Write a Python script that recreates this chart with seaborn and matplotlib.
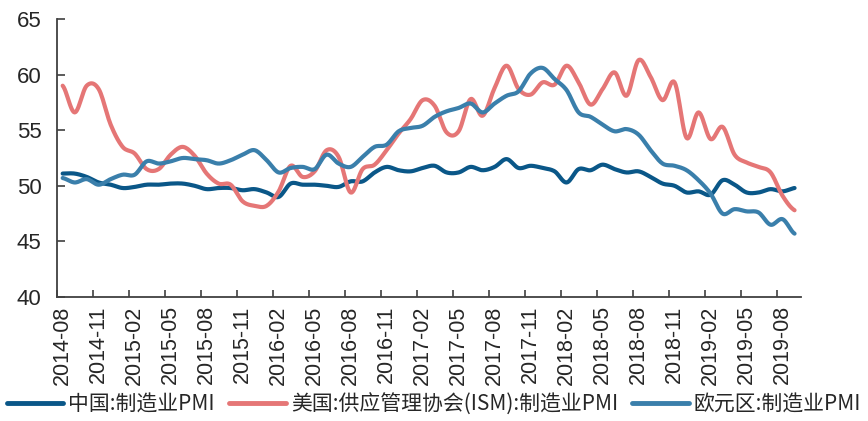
import numpy as np
import pandas as pd
import matplotlib
matplotlib.use("Agg")
import matplotlib.pyplot as plt
import seaborn as sns

# monthly data 2014-08 .. 2019-09
months = pd.period_range("2014-08", "2019-09", freq="M").strftime("%Y-%m").tolist()

china_pmi = [51.1, 51.1, 50.8, 50.3, 50.1,
             49.8, 49.9, 50.1, 50.1, 50.2, 50.2, 50.0, 49.7, 49.8, 49.8, 49.6, 49.7,
             49.4, 49.0, 50.2, 50.1, 50.1, 50.0, 49.9, 50.4, 50.4, 51.2, 51.7, 51.4,
             51.3, 51.6, 51.8, 51.2, 51.2, 51.7, 51.4, 51.7, 52.4, 51.6, 51.8, 51.6,
             51.3, 50.3, 51.5, 51.4, 51.9, 51.5, 51.2, 51.3, 50.8, 50.2, 50.0, 49.4,
             49.5, 49.2, 50.5, 50.1, 49.4, 49.4, 49.7, 49.5, 49.8]

us_ism = [59.0, 56.6, 59.0, 58.7, 55.5,
          53.5, 52.9, 51.5, 51.5, 52.8, 53.5, 52.7, 51.1, 50.2, 50.1, 48.6, 48.2,
          48.2, 49.5, 51.8, 50.8, 51.3, 53.2, 52.6, 49.4, 51.5, 51.9, 53.2, 54.7,
          56.0, 57.7, 57.2, 54.8, 54.9, 57.8, 56.3, 58.8, 60.8, 58.7, 58.2, 59.3,
          59.1, 60.8, 59.3, 57.3, 58.7, 60.2, 58.1, 61.3, 59.8, 57.7, 59.3, 54.3,
          56.6, 54.2, 55.3, 52.8, 52.1, 51.7, 51.2, 49.1, 47.8]

euro_pmi = [50.7, 50.3, 50.6, 50.1, 50.6,
            51.0, 51.0, 52.2, 52.0, 52.2, 52.5, 52.4, 52.3, 52.0, 52.3, 52.8, 53.2,
            52.3, 51.2, 51.6, 51.7, 51.5, 52.8, 52.0, 51.7, 52.6, 53.5, 53.7, 54.9,
            55.2, 55.4, 56.2, 56.7, 57.0, 57.4, 56.6, 57.4, 58.1, 58.5, 60.1, 60.6,
            59.6, 58.6, 56.6, 56.2, 55.5, 54.9, 55.1, 54.6, 53.2, 52.0, 51.8, 51.4,
            50.5, 49.3, 47.5, 47.9, 47.7, 47.6, 46.5, 47.0, 45.7]

series_names = ["中国:制造业PMI", "美国:供应管理协会(ISM):制造业PMI", "欧元区:制造业PMI"]
series_values = [china_pmi, us_ism, euro_pmi]
colors = ["#0a5788", "#e57676", "#3a7fab"]


def smooth(y, n=12):
    # Catmull-Rom curve through the points, like a smoothed office line chart
    y = np.asarray(y, dtype=float)
    p = np.concatenate([[y[0]], y, [y[-1]]])
    xs, ys = [], []
    for i in range(len(y) - 1):
        p0, p1, p2, p3 = p[i], p[i + 1], p[i + 2], p[i + 3]
        t = np.linspace(0, 1, n, endpoint=False)
        seg = 0.5 * ((2 * p1) + (-p0 + p2) * t + (2 * p0 - 5 * p1 + 4 * p2 - p3) * t ** 2
                     + (-p0 + 3 * p1 - 3 * p2 + p3) * t ** 3)
        xs.append(i + t)
        ys.append(seg)
    xs.append([len(y) - 1])
    ys.append([y[-1]])
    return np.concatenate(xs), np.concatenate(ys)


frames = []
for name, vals in zip(series_names, series_values):
    sx, sy = smooth(vals)
    frames.append(pd.DataFrame({"x": sx, "value": sy, "series": name}))
df = pd.concat(frames, ignore_index=True)

sns.set_style("white")
plt.rcParams["font.family"] = ["Liberation Sans", "Noto Sans CJK SC", "DejaVu Sans"]

fig = plt.figure(figsize=(8.68, 4.21), dpi=100)
ax = fig.add_axes([0.0653, 0.2945, 0.857, 0.6604])

sns.lineplot(data=df, x="x", y="value", hue="series", hue_order=series_names,
             palette=colors, linewidth=3.0, ax=ax, legend=False, sort=False,
             estimator=None)
for line in ax.lines:
    line.set_solid_capstyle("round")

ax.set_xlim(-0.5, len(months) - 0.5)
ax.set_ylim(40, 65)
ax.set_yticks([40, 45, 50, 55, 60, 65])
ax.set_xlabel("")
ax.set_ylabel("")

# boundary ticks every 3 months, labels on the category centres
ax.set_xticks(np.arange(-0.5, len(months), 3))
ax.set_xticklabels([])
label_pos = np.arange(0, len(months), 3)
ax.set_xticks(label_pos, minor=True)
ax.set_xticklabels([months[i] for i in label_pos], minor=True, rotation=90,
                   fontsize=15.5)
ax.tick_params(axis="x", which="major", direction="in", length=5, width=1.2,
               color="#404040", bottom=True)
ax.tick_params(axis="x", which="minor", length=0, pad=6)
ax.tick_params(axis="y", direction="in", length=6, width=1.2, color="#404040",
               labelsize=16, pad=11, left=True)

for side in ["top", "right"]:
    ax.spines[side].set_visible(False)
for side in ["left", "bottom"]:
    ax.spines[side].set_color("#404040")
    ax.spines[side].set_linewidth(1.3)

handles = [plt.Line2D([], [], color=c, linewidth=3.5) for c in colors]
fig.legend(handles, series_names, loc="lower center", bbox_to_anchor=(0.5, -0.032),
           ncol=3, frameon=False, handlelength=2.7, handletextpad=0.25,
           columnspacing=0.7, prop={"family": ["Noto Sans CJK SC"], "size": 15})

fig.savefig("out.png", dpi=100)
